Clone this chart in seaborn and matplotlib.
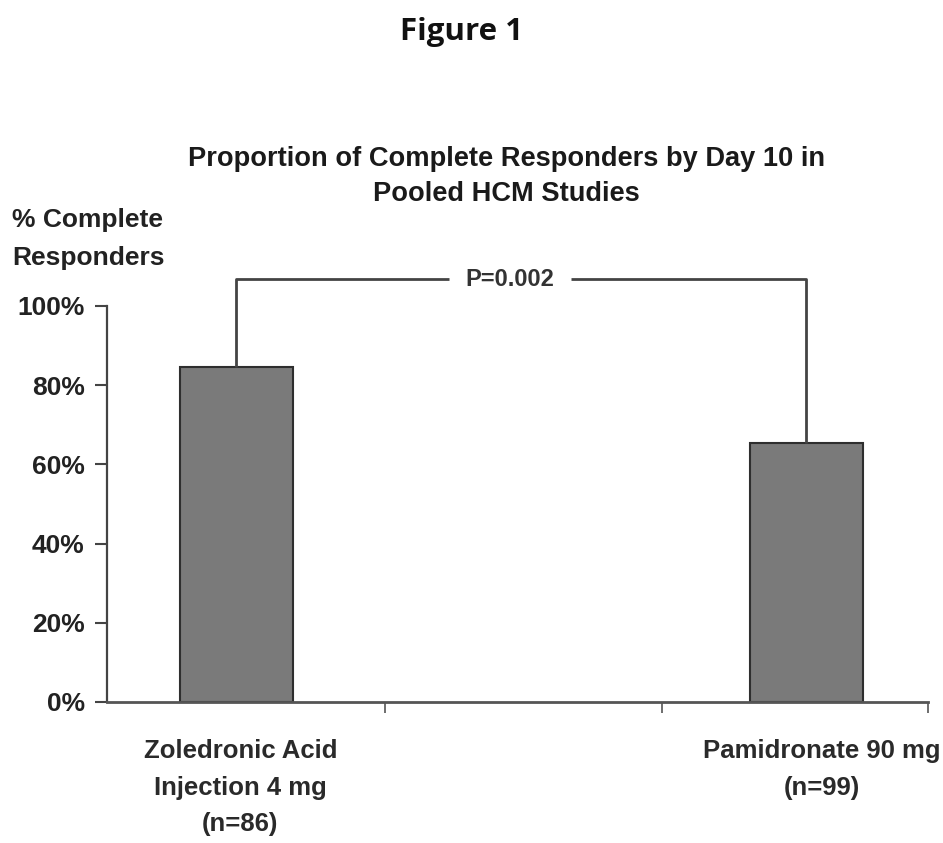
import matplotlib
matplotlib.use("Agg")
import matplotlib.pyplot as plt
from matplotlib.transforms import ScaledTranslation
import seaborn as sns
import pandas as pd

categories = ["Zoledronic Acid\nInjection 4 mg\n(n=86)", "Pamidronate 90 mg\n(n=99)"]
values = [84.5, 65.5]
yticks = [0, 20, 40, 60, 80, 100]
ytick_labels = ["0%", "20%", "40%", "60%", "80%", "100%"]
p_text = "P=0.002"
bracket_level = 106.8

sns.set_theme(style="white")
plt.rcParams["font.family"] = ["Liberation Sans Narrow", "Liberation Sans", "DejaVu Sans"]

df = pd.DataFrame({"group": categories, "pct": values})

fig = plt.figure(figsize=(9.43, 8.43), dpi=100)
ax = fig.add_axes([0.1135, 0.1673, 0.8705, 0.5167])

sns.barplot(data=df, x="group", y="pct", order=categories, color="#7a7a7a",
            edgecolor="#2e2e2e", linewidth=1.5, width=0.198, saturation=1, ax=ax)

ax.set_xlim(-0.227, 1.213)
ax.set_ylim(0, 110)
for s in ["top", "right"]:
    ax.spines[s].set_visible(False)
ax.spines["left"].set_bounds(0, 100)
ax.spines["left"].set_color("#444444")
ax.spines["bottom"].set_color("#555555")
ax.spines["left"].set_linewidth(1.6)
ax.spines["bottom"].set_linewidth(2.0)

ax.set_yticks(yticks)
ax.set_yticklabels(ytick_labels, fontsize=19, fontweight="bold", color="#222222")
ax.tick_params(axis="y", length=9, width=1.5, color="#444444", pad=7, left=True)

ax.set_xticks([0, 1])
ax.set_xticklabels(categories, fontsize=18.5, fontweight="bold", color="#2a2a2a", linespacing=1.65)
ax.tick_params(axis="x", length=0, pad=27)
ax.set_xticks([0.261, 0.746, 1.213], minor=True)
ax.tick_params(axis="x", which="minor", length=8, width=1.2, color="#555555", bottom=True, direction="out")
ax.set_xlabel("")
ax.set_ylabel("")

# small horizontal offsets of the category labels, as in the reference
offsets = [0.04, 0.15]
for lbl, dx in zip(ax.get_xticklabels(), offsets):
    lbl.set_transform(lbl.get_transform() + ScaledTranslation(dx, 0, fig.dpi_scale_trans))

# significance bracket
bars = ax.patches
x0 = bars[0].get_x() + bars[0].get_width() / 2
x1 = bars[1].get_x() + bars[1].get_width() / 2
xm = x0 + 0.48 * (x1 - x0)
gap = 0.107
lc = "#444444"
ax.plot([x0, x0, xm - gap], [values[0], bracket_level, bracket_level], color=lc, lw=2, clip_on=False, solid_capstyle="butt")
ax.plot([xm + gap, x1, x1], [bracket_level, bracket_level, values[1]], color=lc, lw=2, clip_on=False, solid_capstyle="butt")
ax.text(xm, bracket_level, p_text, ha="center", va="center", fontsize=17, fontweight="bold", color="#333333")

fig.text(0.489, 0.962, "Figure 1", ha="center", va="center", fontsize=22.5, fontweight="bold",
         family=["Open Sans", "DejaVu Sans"], color="#111111")
fig.text(0.537, 0.7906, "Proportion of Complete Responders by Day 10 in\nPooled HCM Studies",
         ha="center", va="center", fontsize=19.6, fontweight="bold", color="#1a1a1a", linespacing=1.49)
fig.text(0.013, 0.7165, "% Complete\nResponders", ha="left", va="center", fontsize=19,
         fontweight="bold", color="#222222", linespacing=1.73)

fig.savefig("out.png", dpi=100, facecolor="white")
